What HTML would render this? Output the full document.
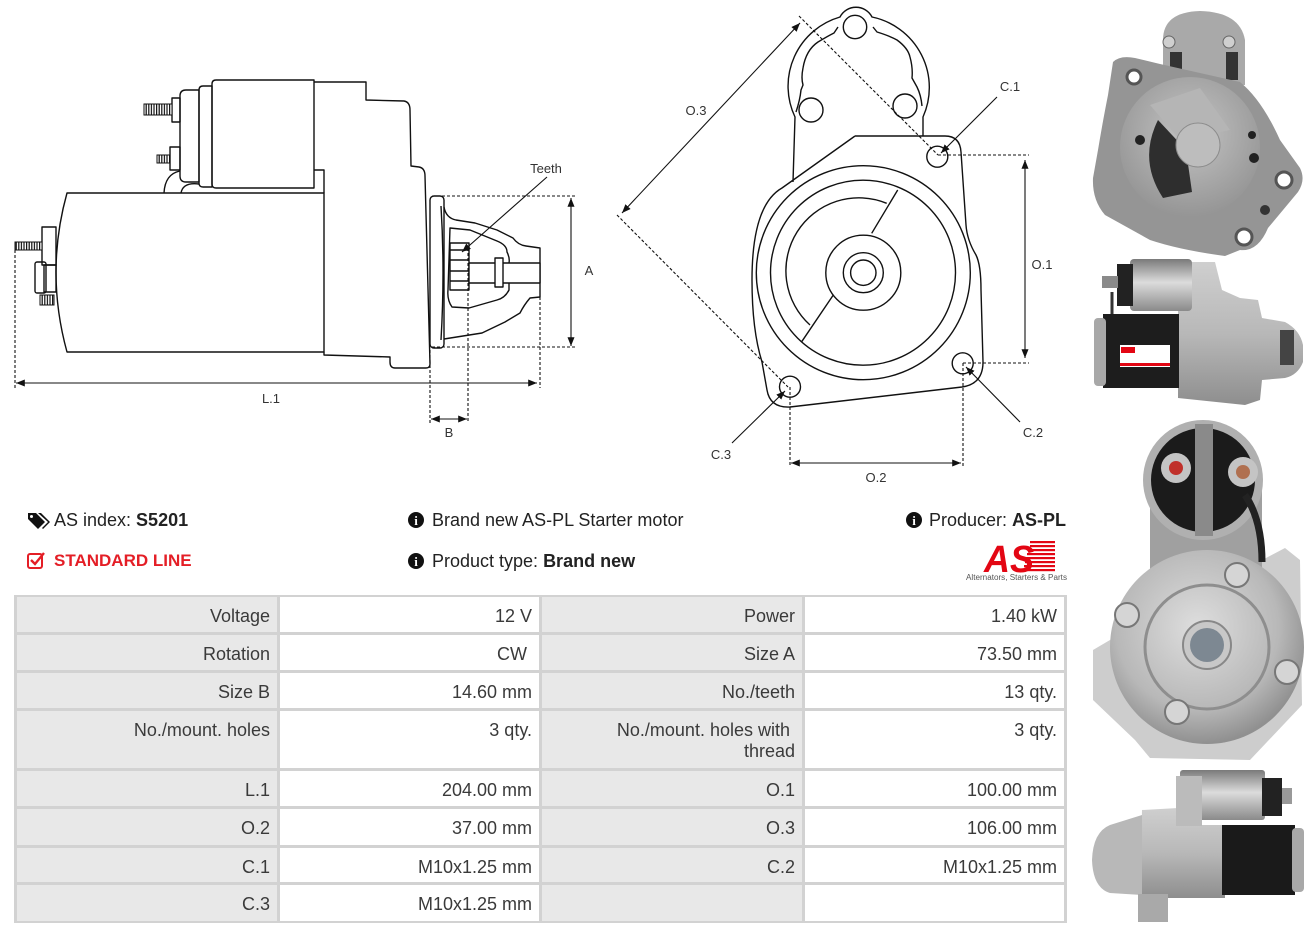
<!DOCTYPE html>
<html><head><meta charset="utf-8">
<style>
*{margin:0;padding:0;box-sizing:border-box}
body{width:1316px;height:936px;background:#fff;position:relative;overflow:hidden;font-family:"Liberation Sans",Arial,sans-serif;color:#222}
.t{position:absolute;font-size:18px;line-height:22px;white-space:nowrap;color:#222}
.c{position:absolute;font-size:18px;line-height:21px;text-align:right;padding:9px 7px 0 0;color:#3a3a3a;white-space:nowrap}
.l{background:#e8e8e8}
.v{background:#fff}
</style></head><body>
<svg width="1316" height="936" style="position:absolute;left:0;top:0">
<defs>
<marker id="ah" viewBox="0 0 10 10" refX="10" refY="5" markerWidth="8" markerHeight="8" orient="auto-start-reverse"><path d="M0,1 L10,5 L0,9 z" fill="#111"/></marker>
<pattern id="thr" width="2.6" height="20" patternUnits="userSpaceOnUse"><rect width="2.6" height="20" fill="#fff"/><rect width="1.2" height="20" fill="#111"/></pattern>
<linearGradient id="gv" x1="0" y1="0" x2="0" y2="1"><stop offset="0" stop-color="#7a7a7a"/><stop offset="0.45" stop-color="#dcdcdc"/><stop offset="1" stop-color="#8a8a8a"/></linearGradient>
<linearGradient id="gv2" x1="0" y1="0" x2="0" y2="1"><stop offset="0" stop-color="#cfcfcf"/><stop offset="0.5" stop-color="#b8b8b8"/><stop offset="1" stop-color="#8e8e8e"/></linearGradient>
<radialGradient id="rad" cx="0.45" cy="0.4" r="0.6"><stop offset="0" stop-color="#dedede"/><stop offset="0.7" stop-color="#b8b8b8"/><stop offset="1" stop-color="#909090"/></radialGradient>
<radialGradient id="rad2" cx="0.5" cy="0.4" r="0.6"><stop offset="0" stop-color="#c4c4c4"/><stop offset="1" stop-color="#959595"/></radialGradient>
</defs>

<!-- LEFT SIDE VIEW -->
<g fill="none" stroke="#111" stroke-width="1.4" stroke-linejoin="round">
  <path d="M67,193 L324,193 L324,352 L67,352 Q45,272 67,193 Z"/>
  <path d="M314,82 L366,82 L366,100 L404,101 Q410,102 410,110 L411,166 L419,167 Q425,168 425,176 L430,364 Q430,368 426,368 L395,368 Q390,368 390,362 L390,357 L324,355 L324,352"/>
  <path d="M314,170 L324,170 L324,193"/>
  <path d="M216,80 L314,80 L314,188 L216,188 Q212,188 212,184 L212,84 Q212,80 216,80 Z"/>
  <path d="M203,86 L212,86 L212,187 L203,187 Q199,187 199,183 L199,90 Q199,86 203,86 Z"/>
  <path d="M186,90 L199,90 L199,182 L186,182 Q180,182 180,176 L180,96 Q180,90 186,90 Z"/>
  <rect x="172" y="98" width="8" height="24"/>
  <rect x="170" y="147" width="10" height="23"/>
  <path d="M164,193 Q165,174 180,171"/>
  <path d="M181,193 Q183,182 199,184"/>
  <rect x="42" y="227" width="14" height="38"/>
  <rect x="44" y="265" width="12" height="27"/>
  <rect x="35" y="262" width="11" height="31" rx="2"/>
  <rect x="430" y="196" width="14" height="152" rx="4"/>
  <path d="M441,206 Q445,272 441,340"/>
  <path d="M444,207 Q446,218 456,220 L475,223 L497,230 L513,238 Q518,245 526,246 L540,248 L540,297 L530,298 Q524,305 520,313 L505,322 L482,333 L444,339"/>
  <path d="M450,228 L470,230 L497,241 Q507,245 507,252 Q510,258 509,263 L509,290 Q505,298 497,300 L469,308 L452,307 Q447,300 448,290 Z"/>
  <rect x="450" y="243" width="19" height="47" fill="#fff"/>
  <path d="M450,250 L469,250 M450,260 L469,260 M450,271 L469,271 M450,281 L469,281"/>
  <rect x="469" y="263" width="71" height="20" fill="#fff"/>
  <rect x="495" y="258" width="8" height="29" fill="#fff"/>
</g>
<g stroke="#111" stroke-width="1">
  <rect x="144" y="104" width="28" height="11" fill="url(#thr)"/>
  <rect x="157" y="155" width="13" height="8" fill="url(#thr)"/>
  <rect x="15" y="242" width="27" height="8" fill="url(#thr)"/>
  <rect x="40" y="295" width="14" height="10" fill="url(#thr)"/>
</g>
<g fill="none" stroke="#111" stroke-width="1.1" stroke-dasharray="3,2">
  <path d="M15,250 L15,388"/>
  <path d="M430,350 L430,423"/>
  <path d="M468,248 L468,423"/>
  <path d="M540,297 L540,388"/>
  <path d="M432,196 L575,196"/>
  <path d="M432,347 L575,347"/>
</g>
<g fill="none" stroke="#111" stroke-width="1.1">
  <path d="M16,383 L537,383" marker-start="url(#ah)" marker-end="url(#ah)"/>
  <path d="M571,198 L571,346" marker-start="url(#ah)" marker-end="url(#ah)"/>
  <path d="M431,419 L467,419" marker-start="url(#ah)" marker-end="url(#ah)"/>
  <path d="M547,177 L462,252" marker-end="url(#ah)"/>
</g>
<g font-family="Liberation Sans, sans-serif" font-size="13" fill="#333" text-anchor="middle">
  <text x="546" y="173">Teeth</text>
  <text x="589" y="275">A</text>
  <text x="271" y="403">L.1</text>
  <text x="449" y="437">B</text>
</g>

<!-- FRONT VIEW -->
<g fill="none" stroke="#111" stroke-width="1.4" stroke-linejoin="round">
  <path d="M793,182 L795,117 A72 72 0 0 1 840,17 A18 18 0 0 1 872,17 A72 72 0 0 1 923,117 L923,136"/>
  <path d="M796,112 Q800,100 801,90 L803,85 Q801,78 803,68 Q806,50 818,42 Q828,36 834,33 L838,27"/>
  <path d="M873,27 L877,32 Q890,36 897,40 Q908,48 910,57 Q913,68 912,78 L917,87 Q921,95 922,106"/>
  <circle cx="855" cy="27" r="11.7"/>
  <circle cx="811" cy="110" r="12"/>
  <circle cx="905" cy="106" r="12"/>
  <path d="M855,136 L945,136 Q960,136 961,152 L966,225 Q967,240 976,255 Q981,265 981,290 L983,362 Q983,384 962,387 L790,407 Q770,408 767,390 L762,362 Q752,330 752,280 Q752,205 782,188 L855,136"/>
  <circle cx="863.3" cy="272.7" r="107"/>
  <circle cx="863" cy="272.7" r="92.5"/>
  <path d="M886.7,203.3 A73 73 0 0 0 810,325"/>
  <path d="M897.7,190 L871.7,233.3 M833.3,295 L801.7,341.7"/>
  <circle cx="863.3" cy="272.7" r="37.5"/>
  <circle cx="863.3" cy="272.7" r="20"/>
  <circle cx="863.3" cy="272.7" r="12.7"/>
  <circle cx="937.3" cy="156.7" r="10.5"/>
  <circle cx="962.7" cy="363.3" r="10.5"/>
  <circle cx="790" cy="386.7" r="10.5"/>
</g>
<g fill="none" stroke="#111" stroke-width="1.1" stroke-dasharray="3,2">
  <path d="M799,16 L938,155"/>
  <path d="M617,215 L788,387"/>
  <path d="M938,155 L1029,155"/>
  <path d="M963,363 L1029,363"/>
  <path d="M790,387 L790,466"/>
  <path d="M963,363 L963,466"/>
</g>
<g fill="none" stroke="#111" stroke-width="1.1">
  <path d="M800,23 L622,213" marker-start="url(#ah)" marker-end="url(#ah)"/>
  <path d="M1025,160 L1025,358" marker-start="url(#ah)" marker-end="url(#ah)"/>
  <path d="M791,463 L961,463" marker-start="url(#ah)" marker-end="url(#ah)"/>
  <path d="M997,97 L941,153" marker-end="url(#ah)"/>
  <path d="M1020,422 L966,367" marker-end="url(#ah)"/>
  <path d="M732,443 L785,391" marker-end="url(#ah)"/>
</g>
<g font-family="Liberation Sans, sans-serif" font-size="13" fill="#333" text-anchor="middle">
  <text x="696" y="115">O.3</text>
  <text x="1010" y="91">C.1</text>
  <text x="1042" y="269">O.1</text>
  <text x="1033" y="437">C.2</text>
  <text x="721" y="459">C.3</text>
  <text x="876" y="482">O.2</text>
</g>

<!-- PHOTO 1 -->
<g>
  <path d="M1163,85 L1163,40 Q1163,12 1200,11 Q1240,12 1245,40 L1245,85 Z" fill="#a9a9a9"/>
  <rect x="1170" y="52" width="12" height="28" fill="#333"/>
  <rect x="1226" y="52" width="12" height="28" fill="#333"/>
  <circle cx="1169" cy="42" r="6" fill="#cfcfcf" stroke="#666"/>
  <circle cx="1229" cy="42" r="6" fill="#cfcfcf" stroke="#666"/>
  <path d="M1113,62 Q1120,55 1135,58 L1160,64 L1240,82 Q1262,100 1280,140 L1300,168 Q1306,180 1298,192 L1268,228 Q1258,252 1240,250 L1225,256 Q1180,250 1150,240 L1105,215 Q1092,200 1093,178 L1098,150 Q1103,120 1108,95 Z" fill="#959595"/>
  <circle cx="1190" cy="147" r="70" fill="url(#rad2)"/>
  <path d="M1158,120 Q1138,160 1163,198 L1192,192 L1186,150 Z" fill="#2e2e2e"/>
  <path d="M1150,105 L1200,88 L1230,130 L1180,140 Z" fill="#b5b5b5"/>
  <circle cx="1198" cy="145" r="22" fill="#bdbdbd" stroke="#8c8c8c"/>
  <circle cx="1134" cy="77" r="7" fill="#fff" stroke="#555" stroke-width="3"/>
  <circle cx="1284" cy="180" r="8" fill="#fff" stroke="#555" stroke-width="3"/>
  <circle cx="1244" cy="237" r="8" fill="#fff" stroke="#555" stroke-width="3"/>
  <circle cx="1254" cy="158" r="5" fill="#222"/>
  <circle cx="1252" cy="135" r="4" fill="#222"/>
  <circle cx="1140" cy="140" r="5" fill="#222"/>
  <circle cx="1265" cy="210" r="5" fill="#333"/>
</g>

<!-- PHOTO 2 -->
<g>
  <path d="M1190,262 L1215,262 L1222,290 L1240,298 L1258,300 L1262,318 L1285,322 Q1300,330 1303,345 L1303,362 Q1298,375 1285,378 L1262,380 L1260,400 L1245,405 L1178,398 L1178,300 L1190,300 Z" fill="url(#gv2)"/>
  <rect x="1130" y="259" width="62" height="52" rx="4" fill="url(#gv)"/>
  <rect x="1117" y="264" width="16" height="42" fill="#222"/>
  <rect x="1102" y="276" width="16" height="12" fill="#8a8a8a"/>
  <path d="M1112,292 L1112,318" stroke="#333" stroke-width="3"/>
  <rect x="1103" y="314" width="76" height="74" fill="#1d1d1d"/>
  <rect x="1094" y="318" width="12" height="68" rx="4" fill="#a8a8a8"/>
  <rect x="1120" y="345" width="50" height="22" fill="#fff"/>
  <rect x="1121" y="347" width="14" height="6" fill="#e30613"/>
  <rect x="1120" y="363" width="50" height="3" fill="#e30613"/>
  <rect x="1280" y="330" width="14" height="35" fill="#444"/>
</g>

<!-- PHOTO 3 -->
<g>
  <path d="M1093,650 L1110,640 L1285,548 L1300,560 L1302,705 L1250,760 L1150,758 L1135,740 L1093,700 Z" fill="#cdcdcd"/>
  <rect x="1150" y="470" width="112" height="100" fill="#a0a0a0"/>
  <circle cx="1203" cy="480" r="60" fill="#b0b0b0"/>
  <circle cx="1203" cy="480" r="52" fill="#1b1b1b"/>
  <rect x="1195" y="424" width="18" height="112" fill="#8a8a8a"/>
  <circle cx="1176" cy="468" r="15" fill="#c4c4c4"/>
  <circle cx="1176" cy="468" r="7" fill="#c0302a"/>
  <circle cx="1243" cy="472" r="15" fill="#c4c4c4"/>
  <circle cx="1243" cy="472" r="7" fill="#b07050"/>
  <path d="M1245,495 Q1262,520 1262,562" stroke="#222" stroke-width="7" fill="none"/>
  <circle cx="1207" cy="647" r="97" fill="url(#rad)"/>
  <circle cx="1207" cy="647" r="62" fill="none" stroke="#8e8e8e" stroke-width="3"/>
  <circle cx="1207" cy="645" r="24" fill="#c8c8c8" stroke="#888" stroke-width="2"/>
  <circle cx="1207" cy="645" r="17" fill="#7d8892"/>
  <circle cx="1127" cy="615" r="12" fill="#d5d5d5" stroke="#777" stroke-width="2"/>
  <circle cx="1237" cy="575" r="12" fill="#d5d5d5" stroke="#777" stroke-width="2"/>
  <circle cx="1287" cy="672" r="12" fill="#d5d5d5" stroke="#777" stroke-width="2"/>
  <circle cx="1177" cy="712" r="12" fill="#d5d5d5" stroke="#777" stroke-width="2"/>
</g>

<!-- PHOTO 4 -->
<g>
  <path d="M1142,810 L1178,808 L1180,825 L1225,825 L1225,898 L1168,898 L1140,895 Z" fill="url(#gv2)"/>
  <path d="M1142,815 L1110,825 Q1093,832 1092,860 Q1093,888 1110,893 L1142,895 Z" fill="#b8b8b8"/>
  <rect x="1138" y="894" width="30" height="28" fill="#a9a9a9"/>
  <rect x="1180" y="770" width="85" height="50" rx="3" fill="url(#gv)"/>
  <rect x="1176" y="776" width="26" height="50" fill="#bbb"/>
  <rect x="1262" y="778" width="20" height="38" fill="#222"/>
  <rect x="1282" y="788" width="10" height="16" fill="#999"/>
  <rect x="1222" y="825" width="73" height="70" fill="#1a1a1a"/>
  <rect x="1292" y="828" width="12" height="64" rx="4" fill="#a8a8a8"/>
</g>

<!-- ICONS -->
<g>
  <path d="M28,513 L36,513 L45,522 L38,529 L28,519 Z" fill="#111"/>
  <path d="M38,513 L41,513 L50,522 L43,529 L42,528 L48,522 Z" fill="#111"/>
  <circle cx="31.5" cy="516.5" r="1.5" fill="#fff"/>
  <rect x="28" y="554" width="14" height="14" rx="2" fill="none" stroke="#e41e26" stroke-width="2"/>
  <path d="M31,560 L35,564 L44,553" fill="none" stroke="#e41e26" stroke-width="2.4"/>
  <circle cx="416" cy="520" r="8" fill="#111"/>
  <text x="416" y="525" font-family="Liberation Serif, serif" font-weight="bold" font-size="13" fill="#fff" text-anchor="middle">i</text>
  <circle cx="416" cy="561" r="8" fill="#111"/>
  <text x="416" y="566" font-family="Liberation Serif, serif" font-weight="bold" font-size="13" fill="#fff" text-anchor="middle">i</text>
  <circle cx="914" cy="520" r="8" fill="#111"/>
  <text x="914" y="525" font-family="Liberation Serif, serif" font-weight="bold" font-size="13" fill="#fff" text-anchor="middle">i</text>
</g>
<!-- AS LOGO -->
<g>
  <rect x="1030" y="541" width="25" height="2.2" fill="#e30613"/>
  <rect x="1030" y="545" width="25" height="2.2" fill="#e30613"/>
  <rect x="1028" y="549" width="27" height="2.2" fill="#e30613"/>
  <rect x="1027" y="553" width="28" height="2.2" fill="#e30613"/>
  <rect x="1026" y="557" width="29" height="2.2" fill="#e30613"/>
  <rect x="1025" y="561" width="30" height="2.2" fill="#e30613"/>
  <rect x="1024" y="565" width="31" height="2.2" fill="#e30613"/>
  <rect x="1023" y="569" width="32" height="2.2" fill="#e30613"/>
  <text x="984" y="572" font-family="Liberation Sans, sans-serif" font-weight="bold" font-style="italic" font-size="38" fill="#e30613" textLength="50" lengthAdjust="spacingAndGlyphs">AS</text>
  <text x="966" y="580" font-family="Liberation Sans, sans-serif" font-size="8" fill="#555" textLength="101" lengthAdjust="spacingAndGlyphs">Alternators, Starters &amp; Parts</text>
</g>
</svg>

<div class="t" style="left:54px;top:509px">AS index: <b>S5201</b></div>
<div class="t" style="left:54px;top:550px;color:#e41e26;font-weight:bold;font-size:17px">STANDARD LINE</div>
<div class="t" style="left:432px;top:509px">Brand new AS-PL Starter motor</div>
<div class="t" style="left:432px;top:550px">Product type: <b>Brand new</b></div>
<div class="t" style="right:250px;top:509px">Producer: <b>AS-PL</b></div>

<div style="position:absolute;left:14px;top:595px;width:1053px;height:328px;background:#d2d2d2"></div>
<!-- row 1 -->
<div class="c l" style="left:17px;top:597px;width:260px;height:35px">Voltage</div>
<div class="c v" style="left:280px;top:597px;width:259px;height:35px">12 V</div>
<div class="c l" style="left:542px;top:597px;width:260px;height:35px">Power</div>
<div class="c v" style="left:805px;top:597px;width:259px;height:35px">1.40 kW</div>
<!-- row 2 -->
<div class="c l" style="left:17px;top:635px;width:260px;height:35px">Rotation</div>
<div class="c v" style="left:280px;top:635px;width:259px;height:35px">CW&nbsp;</div>
<div class="c l" style="left:542px;top:635px;width:260px;height:35px">Size A</div>
<div class="c v" style="left:805px;top:635px;width:259px;height:35px">73.50 mm</div>
<!-- row 3 -->
<div class="c l" style="left:17px;top:673px;width:260px;height:35px">Size B</div>
<div class="c v" style="left:280px;top:673px;width:259px;height:35px">14.60 mm</div>
<div class="c l" style="left:542px;top:673px;width:260px;height:35px">No./teeth</div>
<div class="c v" style="left:805px;top:673px;width:259px;height:35px">13 qty.</div>
<!-- row 4 -->
<div class="c l" style="left:17px;top:711px;width:260px;height:57px">No./mount. holes</div>
<div class="c v" style="left:280px;top:711px;width:259px;height:57px">3 qty.</div>
<div class="c l" style="left:542px;top:711px;width:260px;height:57px">No./mount. holes with&nbsp;<br>thread</div>
<div class="c v" style="left:805px;top:711px;width:259px;height:57px">3 qty.</div>
<!-- row 5 -->
<div class="c l" style="left:17px;top:771px;width:260px;height:35px">L.1</div>
<div class="c v" style="left:280px;top:771px;width:259px;height:35px">204.00 mm</div>
<div class="c l" style="left:542px;top:771px;width:260px;height:35px">O.1</div>
<div class="c v" style="left:805px;top:771px;width:259px;height:35px">100.00 mm</div>
<!-- row 6 -->
<div class="c l" style="left:17px;top:809px;width:260px;height:36px">O.2</div>
<div class="c v" style="left:280px;top:809px;width:259px;height:36px">37.00 mm</div>
<div class="c l" style="left:542px;top:809px;width:260px;height:36px">O.3</div>
<div class="c v" style="left:805px;top:809px;width:259px;height:36px">106.00 mm</div>
<!-- row 7 -->
<div class="c l" style="left:17px;top:848px;width:260px;height:34px">C.1</div>
<div class="c v" style="left:280px;top:848px;width:259px;height:34px">M10x1.25 mm</div>
<div class="c l" style="left:542px;top:848px;width:260px;height:34px">C.2</div>
<div class="c v" style="left:805px;top:848px;width:259px;height:34px">M10x1.25 mm</div>
<!-- row 8 -->
<div class="c l" style="left:17px;top:885px;width:260px;height:36px">C.3</div>
<div class="c v" style="left:280px;top:885px;width:259px;height:36px">M10x1.25 mm</div>
<div class="c l" style="left:542px;top:885px;width:260px;height:36px"></div>
<div class="c v" style="left:805px;top:885px;width:259px;height:36px"></div>
</body></html>
